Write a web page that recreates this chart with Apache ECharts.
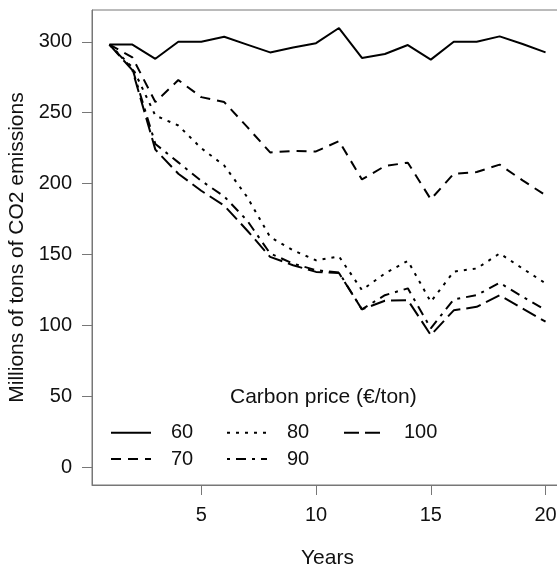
<!DOCTYPE html>
<html>
<head>
<meta charset="utf-8">
<script src="https://cdn.jsdelivr.net/npm/echarts@6/dist/echarts.min.js"></script>
<style>
  html, body { margin: 0; padding: 0; background: #fff; }
  #co2Chart { width: 557px; height: 568px; }
</style>
</head>
<body>
<div id="co2Chart"></div>
<script>
let years = [1, 2, 3, 4, 5, 6, 7, 8, 9, 10, 11, 12, 13, 14, 15, 16, 17, 18, 19, 20];
let priceNames = ['60', '70', '80', '90', '100'];
let xTicks = [5, 10, 15, 20];
let yTicks = [0, 50, 100, 150, 200, 250, 300];

let price60 = [298, 298, 288, 300, 300, 303.5, 298, 292.5, 296, 299, 309.7, 288.6, 291.4, 297.7, 287.4, 300, 300, 303.8, 298.4, 292.5];
let price70 = [298, 289, 257.5, 273, 261, 257.5, 240, 222, 223, 222.7, 230, 203, 212.4, 214.8, 189, 207, 208.2, 213.4, 202.3, 191.8];
let price80 = [298, 282, 248, 241, 225, 212.8, 190.6, 162.4, 153, 146, 148.7, 125, 136.7, 145.6, 116.7, 138, 140.2, 150.8, 140.2, 129.7];
let price90 = [298, 281, 228, 215, 202, 191, 174, 150.8, 143.7, 139, 137.4, 111.4, 121.4, 126.2, 98, 118.4, 121.4, 130.1, 120.3, 110.9];
let price100 = [298, 280, 224, 207, 195, 184.5, 167, 148.4, 142.5, 137.8, 137, 111.4, 117.5, 117.9, 93.3, 110.7, 113.2, 121.4, 112, 102.7];

let allSeries = [price60, price70, price80, price90, price100];
// R line types: solid, dashed, dotted, dotdash, longdash
let dashes = ['solid', [10, 7], [3, 6], [3, 6, 10, 6], [15, 6]];

var font = 'Liberation Sans, Arial, sans-serif';

var co2ChartDom = document.getElementById('co2Chart');
var co2Chart = echarts.init(co2ChartDom);

function pairs(vals) {
  return years.map(function (y, i) { return [y, vals[i]]; });
}

var seriesList = priceNames.map(function (name, i) {
  return {
    name: name,
    type: 'line',
    data: pairs(allSeries[i]),
    symbol: 'none',
    showSymbol: false,
    clip: false,
    itemStyle: { color: '#000' },
    lineStyle: { color: '#000', width: 2, type: dashes[i] }
  };
});

// one legend per column, R fills legend columns top to bottom
function legendCol(names, left) {
  return {
    data: names,
    orient: 'vertical',
    left: left,
    top: 422.7,
    itemWidth: 40,
    itemHeight: 14,
    itemGap: 6.3,
    padding: 0,
    selectedMode: false,
    itemStyle: { opacity: 0 },
    textStyle: { fontFamily: font, fontSize: 20, color: '#111', padding: [0, 0, 0, 15] }
  };
}

co2ChartOption = {
  animation: false,
  backgroundColor: '#fff',
  title: {
    text: 'Carbon price (€/ton)',
    left: 230,
    top: 387,
    padding: 0,
    textStyle: { fontFamily: font, fontSize: 21, fontWeight: 'normal', color: '#111' }
  },
  legend: [
    legendCol(['60', '70'], 110),
    legendCol(['80', '90'], 226),
    legendCol(['100'], 343)
  ],
  grid: {
    left: 92,
    right: -6,
    top: 10,
    bottom: 83,
    outerBoundsMode: 'none',
    containLabel: false,
    show: true,
    borderColor: '#777',
    borderWidth: 1
  },
  xAxis: {
    type: 'value',
    min: 0.24,
    max: 20.76,
    name: 'Years',
    nameLocation: 'middle',
    nameGap: 63,
    nameTextStyle: { fontFamily: font, fontSize: 21, color: '#111' },
    splitLine: { show: false },
    axisLine: { show: true, onZero: false, lineStyle: { color: '#777', width: 1 } },
    axisTick: { show: true, length: 10, customValues: xTicks, lineStyle: { color: '#777', width: 1 } },
    axisLabel: { customValues: xTicks, margin: 20, fontFamily: font, fontSize: 20, color: '#111' }
  },
  yAxis: {
    type: 'value',
    min: -12.4,
    max: 322.4,
    name: 'Millions of tons of CO2 emissions',
    nameLocation: 'middle',
    nameGap: 47,
    nameTextStyle: { fontFamily: font, fontSize: 21, color: '#111' },
    splitLine: { show: false },
    axisLine: { show: true, onZero: false, lineStyle: { color: '#777', width: 1 } },
    axisTick: { show: true, length: 10, customValues: yTicks, lineStyle: { color: '#777', width: 1 } },
    axisLabel: { customValues: yTicks, margin: 20, fontFamily: font, fontSize: 20, color: '#111' }
  },
  series: seriesList
};

co2Chart.setOption(co2ChartOption);
</script>
</body>
</html>
